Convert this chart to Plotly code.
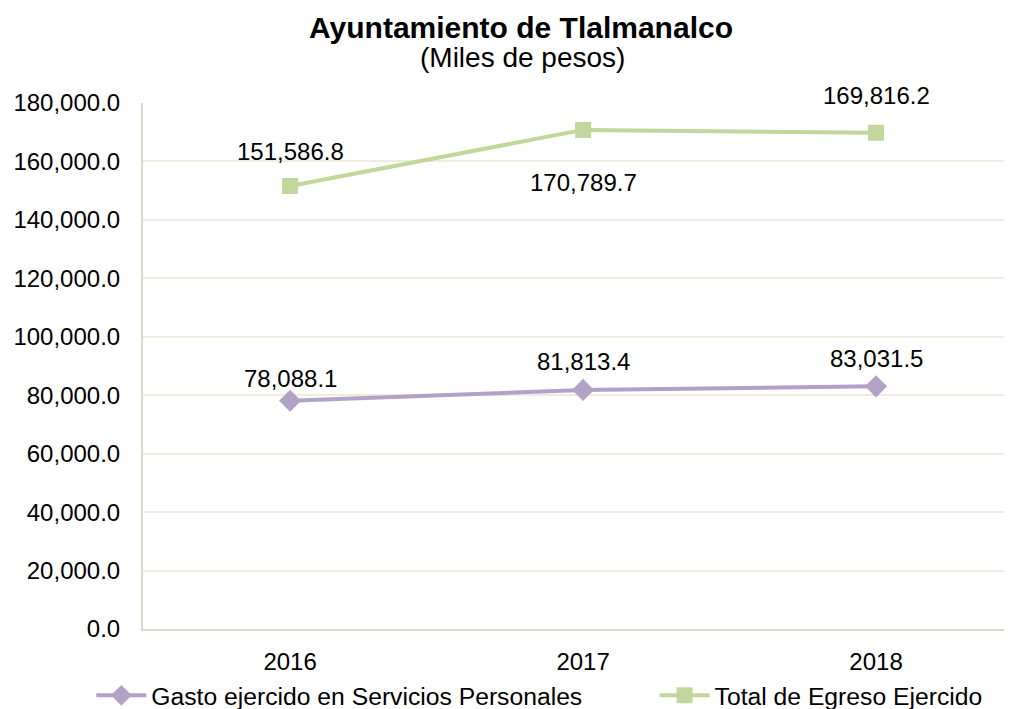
import plotly.graph_objects as go

years = ["2016", "2017", "2018"]
gasto = [78088.1, 81813.4, 83031.5]
total = [151586.8, 170789.7, 169816.2]
gasto_name = "Gasto ejercido en Servicios Personales"
total_name = "Total de Egreso Ejercido"
yticks = [0, 20000, 40000, 60000, 80000, 100000, 120000, 140000, 160000, 180000]

FONT = "Liberation Sans, Arial, sans-serif"
PURPLE = "#B3A2C7"
GREEN = "#C3D69B"

fig = go.Figure()
fig.add_trace(go.Scatter(x=years, y=gasto, name=gasto_name, mode="lines+markers",
                         line=dict(color=PURPLE, width=4),
                         marker=dict(symbol="diamond", size=17, color=PURPLE),
                         legend="legend"))
fig.add_trace(go.Scatter(x=years, y=total, name=total_name, mode="lines+markers",
                         line=dict(color=GREEN, width=4),
                         marker=dict(symbol="square", size=16, color=GREEN),
                         legend="legend2"))

def fmt(v):
    return f"{v:,.1f}"

shifts_g = [22, 28, 28]
shifts_t = [35, -53, 37]
for i, (v, s) in enumerate(zip(gasto, shifts_g)):
    fig.add_annotation(x=i, y=v, text=fmt(v), showarrow=False, yshift=s,
                       font=dict(family=FONT, size=24, color="#000000"))
for i, (v, s) in enumerate(zip(total, shifts_t)):
    fig.add_annotation(x=i, y=v, text=fmt(v), showarrow=False, yshift=s,
                       font=dict(family=FONT, size=24, color="#000000"))

fig.add_annotation(xref="paper", yref="paper", x=0.435, y=1.1426, yanchor="middle",
                   text="<b>Ayuntamiento de Tlalmanalco</b>", showarrow=False,
                   font=dict(family=FONT, size=30, color="#000000"))
fig.add_annotation(xref="paper", yref="paper", x=0.437, y=1.0856, yanchor="middle",
                   text="(Miles de pesos)", showarrow=False,
                   font=dict(family=FONT, size=28, color="#000000"))

legend_common = dict(orientation="h", xref="container", yref="paper",
                     xanchor="left", y=-0.127, yanchor="middle",
                     font=dict(family=FONT, size=24.7, color="#000000"),
                     itemwidth=50, bgcolor="rgba(0,0,0,0)")

fig.update_layout(
    width=1004, height=701,
    paper_bgcolor="white", plot_bgcolor="white",
    margin=dict(l=135, r=0, t=95, b=80, autoexpand=False),
    font=dict(family=FONT, size=24, color="#000000"),
    showlegend=True,
    legend=dict(x=0.083, **legend_common),
    legend2=dict(x=0.644, **legend_common),
    xaxis=dict(type="category", range=[-0.502, 2.464], showgrid=False,
               showline=True, linecolor="#D9D9C9", linewidth=2,
               ticks="", ticklabelstandoff=10,
               tickfont=dict(family=FONT, size=24)),
    yaxis=dict(range=[0, 180000], tickvals=yticks, tickformat=",.1f",
               showgrid=True, gridcolor="#EEECE1", gridwidth=2,
               showline=True, linecolor="#D9D9C9", linewidth=2,
               ticks="", ticklabelstandoff=16, zeroline=False,
               tickfont=dict(family=FONT, size=24)),
)

fig.write_html("out.html")
